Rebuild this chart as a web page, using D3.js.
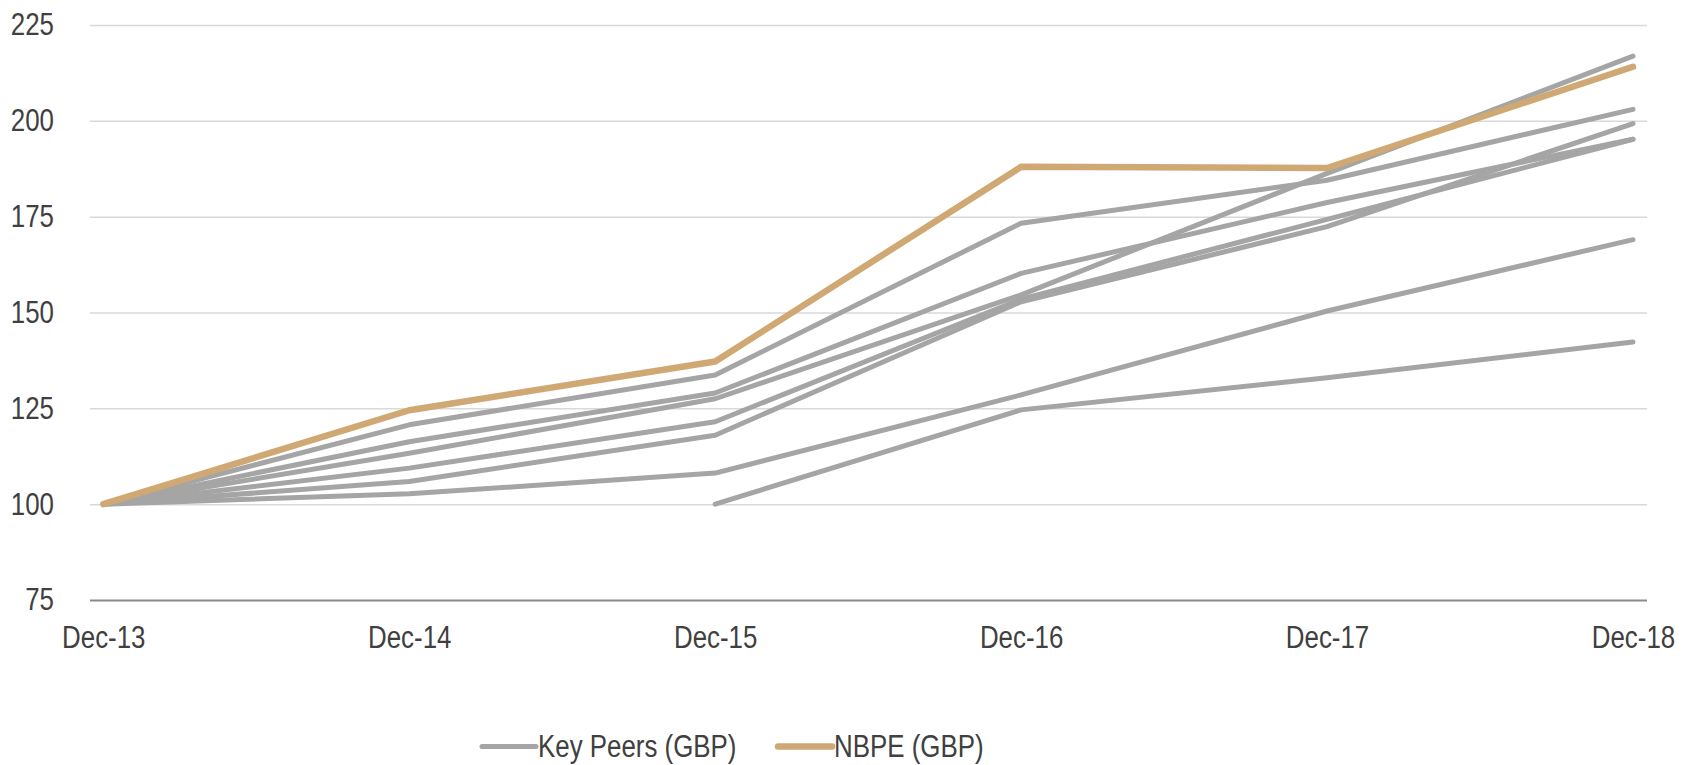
<!DOCTYPE html>
<html>
<head>
<meta charset="utf-8">
<script src="https://cdn.jsdelivr.net/npm/d3@7"></script>
<style>
  body { margin: 0; background: #fff; }
  svg text { font-family: "Liberation Sans", Arial, sans-serif; fill: #404040; }
</style>
</head>
<body>
<svg id="chart" width="1692" height="765"></svg>
<script>
// categories and series
var categories = ["Dec-13", "Dec-14", "Dec-15", "Dec-16", "Dec-17", "Dec-18"];
var yTicks = [75, 100, 125, 150, 175, 200, 225];

var nbpe  = [100, 124.5, 137.2, 188.0, 187.7, 214.1];
var peer1 = [100, 120.7, 133.7, 173.3, 184.5, 203.0];
var peer2 = [100, 116.3, 129.0, 160.2, 178.7, 195.2];
var peer3 = [100, 113.3, 127.5, 154.6, 186.3, 216.9];
var peer4 = [100, 109.4, 121.5, 153.5, 174.3, 195.2];
var peer5 = [100, 105.9, 118.0, 152.8, 172.4, 199.3];
var peer6 = [100, 102.7, 108.1, 128.5, 150.4, 169.0];
var peer7 = [null, null, 100, 124.6, 133.0, 142.3];
var peers = [peer1, peer2, peer3, peer4, peer5, peer6, peer7];

var legendLabels = ["Key Peers (GBP)", "NBPE (GBP)"];
var peerColor = "#a5a5a5";
var nbpeColor = "#d0a873";

// narrow look: squeeze Liberation Sans horizontally
var squeeze = 0.835;

var svg = d3.select("#chart");

// plot area
var plotLeft = 90, plotRight = 1647, plotTop = 25, plotBottom = 600;

var x = d3.scalePoint()
  .domain(categories)
  .range([103.3, 1633]);

var y = d3.scaleLinear()
  .domain([75, 225])
  .range([plotBottom, plotTop]);

// gridlines + y labels
var yAxis = svg.append("g")
  .attr("transform", "translate(" + plotLeft + ",0)")
  .call(d3.axisLeft(y).tickValues(yTicks).tickSize(-(plotRight - plotLeft)));
yAxis.select(".domain").remove();
yAxis.selectAll(".tick line")
  .attr("stroke", function(d) { return d === 75 ? "#898989" : "#d9d9d9"; })
  .attr("stroke-width", function(d) { return d === 75 ? 2 : 1.5; });
yAxis.selectAll(".tick text")
  .style("font-size", "31px")
  .attr("fill", "#404040")
  .attr("x", -36 / squeeze)
  .attr("transform", "scale(" + squeeze + ",1)");

// x labels
var xAxis = svg.append("g")
  .attr("transform", "translate(0," + plotBottom + ")")
  .call(d3.axisBottom(x).tickSize(0).tickPadding(26));
xAxis.select(".domain").remove();
xAxis.selectAll(".tick text")
  .style("font-size", "31px")
  .attr("fill", "#404040")
  .attr("transform", "scale(" + squeeze + ",1)");

// lines
var line = d3.line()
  .defined(function(d) { return d != null; })
  .x(function(d, i) { return x(categories[i]); })
  .y(function(d) { return y(d); });

svg.selectAll(".peer")
  .data(peers)
  .enter()
  .append("path")
    .attr("class", "peer")
    .attr("d", line)
    .attr("fill", "none")
    .attr("stroke", peerColor)
    .attr("stroke-width", 5)
    .attr("stroke-linecap", "round")
    .attr("stroke-linejoin", "round");

svg.append("path")
  .attr("d", line(nbpe))
  .attr("fill", "none")
  .attr("stroke", nbpeColor)
  .attr("stroke-width", 6.5)
  .attr("stroke-linecap", "round")
  .attr("stroke-linejoin", "round");

// legend
var legendItems = [
  { label: legendLabels[0], color: peerColor, x: 482, w: 5 },
  { label: legendLabels[1], color: nbpeColor, x: 778, w: 6.5 }
];
var legend = svg.selectAll(".legend")
  .data(legendItems)
  .enter()
  .append("g")
    .attr("class", "legend")
    .attr("transform", function(d) { return "translate(" + d.x + ",746.5)"; });
legend.append("line")
  .attr("x1", 0).attr("x2", 54)
  .attr("stroke", function(d) { return d.color; })
  .attr("stroke-width", function(d) { return d.w; })
  .attr("stroke-linecap", "round");
legend.append("text")
  .attr("x", 56 / squeeze)
  .attr("dy", "0.35em")
  .attr("transform", "scale(" + squeeze + ",1)")
  .style("font-size", "31px")
  .text(function(d) { return d.label; });
</script>
</body>
</html>
